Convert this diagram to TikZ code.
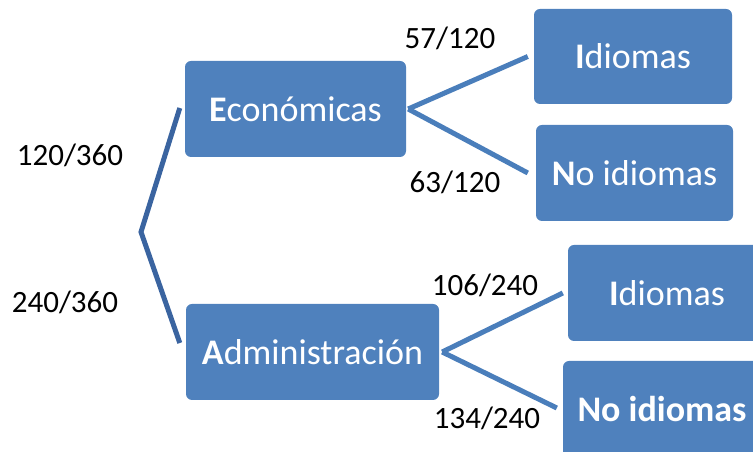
\documentclass[tikz,border=0pt]{standalone}
\usepackage{fontspec}
\setmainfont{Carlito}
\definecolor{boxblue}{HTML}{4F81BD}
\definecolor{rootline}{HTML}{3A64A0}
\definecolor{branchline}{HTML}{4A7EBB}
\begin{document}
\begin{tikzpicture}[x=1pt,y=1pt,
  box/.style={rectangle, rounded corners=6pt, fill=boxblue, inner sep=0pt,
    text=white, font=\fontsize{36}{43}\selectfont},
  prob/.style={font=\fontsize{31}{37}\selectfont, text=black, inner sep=0pt},
  rootedge/.style={draw=rootline, line width=5pt},
  branchedge/.style={draw=branchline, line width=5pt}]
\useasboundingbox (0,0) rectangle (753,452);
\clip (0,0) rectangle (753,452);
% boxes
\node[box, minimum width=221pt, minimum height=96pt] (E) at (295.5,343) {\textbf{E}conómicas};
\node[box, minimum width=253pt, minimum height=96pt] (A) at (312.5,100) {\textbf{A}dministración};
\node[box, minimum width=198pt, minimum height=95pt] (I1) at (633,395.5) {\textbf{I}diomas};
\node[box, minimum width=197pt, minimum height=96pt] (N1) at (634.5,279) {\textbf{N}o idiomas};
\node[box, minimum width=198pt, minimum height=96pt] (I2) at (667,159) {\textbf{I}diomas};
\node[box, minimum width=198pt, minimum height=96pt] (N2) at (662,43) {\textbf{No idiomas}};
% fork points
\coordinate (root) at (141,220);
\coordinate (fe) at ([xshift=2pt]E.east);
\coordinate (fa) at ([xshift=3pt]A.east);
% connectors
\draw[rootedge, line join=miter] ([xshift=-5pt,yshift=1pt]E.west) -- (root) -- ([xshift=-6pt,yshift=9pt]A.west);
\draw[branchedge] (fe) -- ([xshift=-6pt]I1.west);
\draw[branchedge] (fe) -- ([xshift=-8pt]N1.west);
\draw[branchedge] (fa) -- ([xshift=-5pt]I2.west);
\draw[branchedge] (fa) -- ([xshift=-6pt,yshift=1pt]N2.west);
% labels
\node[prob] (p1) at (70,297) {120/360};
\node[prob] (p2) at (65,150) {240/360};
\node[prob] (p3) at (450,414) {57/120};
\node[prob] (p4) at (455,270) {63/120};
\node[prob] (p5) at (485,167) {106/240};
\node[prob] (p6) at (487,34) {134/240};
\end{tikzpicture}
\end{document}
